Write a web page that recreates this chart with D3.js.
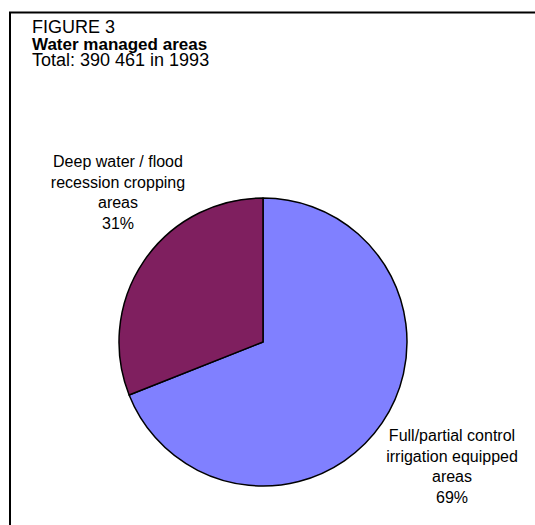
<!DOCTYPE html>
<html>
<head>
<meta charset="utf-8">
<script src="https://cdn.jsdelivr.net/npm/d3@7"></script>
<style>
  html, body { margin: 0; padding: 0; background: #fff; }
  svg { display: block; font-family: "Liberation Sans", Arial, sans-serif; }
</style>
</head>
<body>
<svg id="chart" width="535" height="525"></svg>
<script>
// ---- data ----
const categories = ["Full/partial control irrigation equipped areas", "Deep water / flood recession cropping areas"];
const labelLines = [["Full/partial control", "irrigation equipped", "areas"], ["Deep water / flood", "recession cropping", "areas"]];
const values = [69, 31];
const colors = ["#8080FF", "#7F1F5F"];
const titleLines = ["FIGURE 3", "Water managed areas", "Total: 390 461 in 1993"];

// ---- layout ----
const W = 535, H = 525;
const cx = 263, cy = 342, R = 144;
const svg = d3.select("#chart");

// frame (left and top edges visible)
svg.append("path")
  .attr("d", `M10,${H} L10,12.5 L${W},12.5`)
  .attr("fill", "none").attr("stroke", "#000").attr("stroke-width", 2);

// title
const title = svg.append("text").attr("x", 32).attr("fill", "#000");
titleLines.forEach((t, i) => {
  title.append("tspan").attr("x", 32).attr("y", 33 + i * 16.5)
    .attr("font-size", i === 1 ? 17 : 18)
    .attr("font-weight", i === 1 ? "bold" : "normal").text(t);
});

// pie
const pie = d3.pie().sort(null).value(d => d.value)
  .startAngle(0).endAngle(2 * Math.PI);
const data = categories.map((c, i) => ({ name: c, value: values[i], lines: labelLines[i], color: colors[i] }));
const arcs = pie(data);
const arc = d3.arc().innerRadius(0).outerRadius(R);

const g = svg.append("g").attr("transform", `translate(${cx},${cy})`);
g.selectAll("path.slice").data(arcs).enter().append("path")
  .attr("class", "slice")
  .attr("d", arc)
  .attr("fill", d => d.data.color)
  .attr("stroke", "#000").attr("stroke-width", 1.5)
  .attr("stroke-linejoin", "round");

// labels: placed outside, centered blocks
const total = d3.sum(values);
const labelPos = [ {x: 452, y: 441}, {x: 118, y: 167} ];
const lh = 20.7;
arcs.forEach((d, i) => {
  const p = labelPos[i];
  const t = svg.append("text").attr("text-anchor", "middle").attr("font-size", 16).attr("fill", "#000");
  const lines = d.data.lines.concat([Math.round(d.data.value / total * 100) + "%"]);
  lines.forEach((l, j) => {
    t.append("tspan").attr("x", p.x).attr("y", p.y + j * lh).text(l);
  });
});
</script>
</body>
</html>
